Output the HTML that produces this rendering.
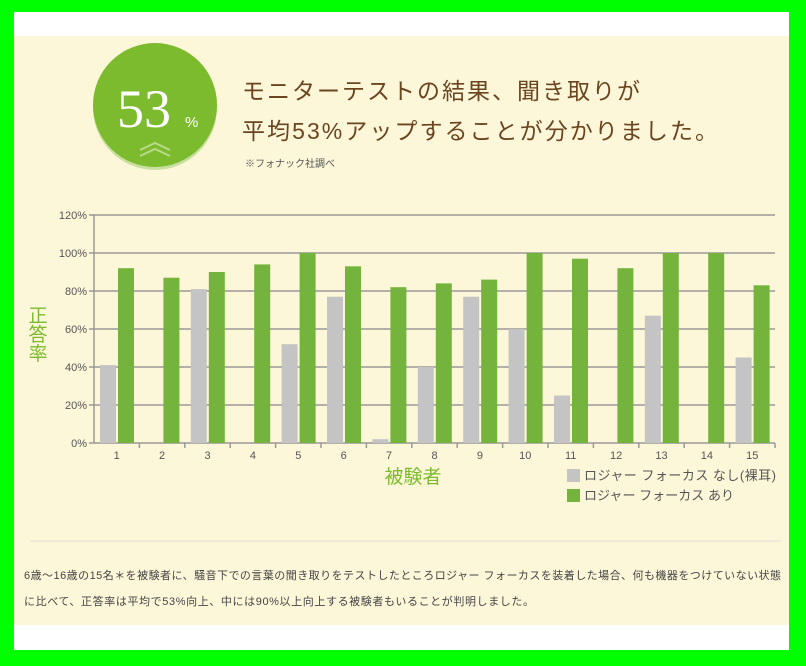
<!DOCTYPE html><html><head><meta charset="utf-8"><style>
body{margin:0;width:806px;height:666px;background:#00ff00;overflow:hidden}
</style></head><body>
<svg width="806" height="666" xmlns="http://www.w3.org/2000/svg" style="position:absolute;left:0;top:0">
<rect x="14" y="12" width="775" height="638" fill="#fff"/>
<rect x="14" y="36" width="775" height="589" fill="#fdf7d9"/>
<circle cx="155" cy="108" r="62" fill="#c8df9e"/>
<circle cx="155" cy="105" r="62" fill="#7cbb2e"/>
<text x="117" y="127" font-family="Liberation Serif,serif" font-size="54" fill="#fff">53</text>
<text x="185" y="127" font-family="Liberation Sans,sans-serif" font-size="15" fill="#fff">%</text>
<path d="M140 150 L155 143 L170 150 M140 156 L155 149 L170 156" stroke="#b8da8a" stroke-width="2" fill="none"/>
<g font-family="Liberation Sans,'Noto Sans CJK JP',sans-serif" fill="#6b4520" font-size="23">
<text x="242" y="99" textLength="398">モニターテストの結果、聞き取りが</text>
<text x="242" y="139" textLength="476">平均53%アップすることが分かりました。</text>
<text x="245" y="167" font-size="10" fill="#555">※フォナック社調べ</text>
</g>
<g stroke="#999" stroke-width="1.5">
<line x1="94" y1="215" x2="775" y2="215"/><line x1="94" y1="253" x2="775" y2="253"/>
<line x1="94" y1="291" x2="775" y2="291"/><line x1="94" y1="329" x2="775" y2="329"/>
<line x1="94" y1="367" x2="775" y2="367"/><line x1="94" y1="405" x2="775" y2="405"/>
<line x1="94" y1="443" x2="775" y2="443"/><line x1="94" y1="215" x2="94" y2="443"/>
<line x1="89" y1="215" x2="94" y2="215"/><line x1="89" y1="253" x2="94" y2="253"/><line x1="89" y1="291" x2="94" y2="291"/><line x1="89" y1="329" x2="94" y2="329"/><line x1="89" y1="367" x2="94" y2="367"/><line x1="89" y1="405" x2="94" y2="405"/><line x1="89" y1="443" x2="94" y2="443"/>
<line x1="139.4" y1="443" x2="139.4" y2="448"/><line x1="184.8" y1="443" x2="184.8" y2="448"/><line x1="230.2" y1="443" x2="230.2" y2="448"/><line x1="275.6" y1="443" x2="275.6" y2="448"/><line x1="321" y1="443" x2="321" y2="448"/><line x1="366.4" y1="443" x2="366.4" y2="448"/><line x1="411.8" y1="443" x2="411.8" y2="448"/><line x1="457.2" y1="443" x2="457.2" y2="448"/><line x1="502.6" y1="443" x2="502.6" y2="448"/><line x1="548" y1="443" x2="548" y2="448"/><line x1="593.4" y1="443" x2="593.4" y2="448"/><line x1="638.8" y1="443" x2="638.8" y2="448"/><line x1="684.2" y1="443" x2="684.2" y2="448"/><line x1="729.6" y1="443" x2="729.6" y2="448"/><line x1="775" y1="443" x2="775" y2="448"/>
</g>
<g font-family="Liberation Sans,sans-serif" font-size="11" fill="#555" text-anchor="end">
<text x="87" y="219">120%</text><text x="87" y="257">100%</text><text x="87" y="295">80%</text><text x="87" y="333">60%</text><text x="87" y="371">40%</text><text x="87" y="409">20%</text><text x="87" y="447">0%</text>
</g>
<g font-family="Liberation Sans,sans-serif" font-size="11" fill="#555" text-anchor="middle">
<text x="116.7" y="459">1</text><text x="162.1" y="459">2</text><text x="207.5" y="459">3</text><text x="252.9" y="459">4</text><text x="298.3" y="459">5</text><text x="343.7" y="459">6</text><text x="389.1" y="459">7</text><text x="434.5" y="459">8</text><text x="479.9" y="459">9</text><text x="525.3" y="459">10</text><text x="570.7" y="459">11</text><text x="616.1" y="459">12</text><text x="661.5" y="459">13</text><text x="706.9" y="459">14</text><text x="752.3" y="459">15</text>
</g>
<g fill="#c4c4c4">
<rect x="100" y="365.1" width="16" height="77.9"/>
<rect x="190.8" y="289.1" width="16" height="153.9"/>
<rect x="281.6" y="344.2" width="16" height="98.8"/>
<rect x="327" y="296.7" width="16" height="146.3"/>
<rect x="372.4" y="439.2" width="16" height="3.8"/>
<rect x="417.8" y="367" width="16" height="76"/>
<rect x="463.2" y="296.7" width="16" height="146.3"/>
<rect x="508.6" y="329" width="16" height="114"/>
<rect x="554" y="395.5" width="16" height="47.5"/>
<rect x="644.8" y="315.7" width="16" height="127.3"/>
<rect x="735.6" y="357.5" width="16" height="85.5"/>
</g>
<g fill="#74b43c">
<rect x="118" y="268.2" width="16" height="174.8"/>
<rect x="163.4" y="277.7" width="16" height="165.3"/>
<rect x="208.8" y="272" width="16" height="171"/>
<rect x="254.2" y="264.4" width="16" height="178.6"/>
<rect x="299.6" y="253" width="16" height="190"/>
<rect x="345" y="266.3" width="16" height="176.7"/>
<rect x="390.4" y="287.2" width="16" height="155.8"/>
<rect x="435.8" y="283.4" width="16" height="159.6"/>
<rect x="481.2" y="279.6" width="16" height="163.4"/>
<rect x="526.6" y="253" width="16" height="190"/>
<rect x="572" y="258.7" width="16" height="184.3"/>
<rect x="617.4" y="268.2" width="16" height="174.8"/>
<rect x="662.8" y="253" width="16" height="190"/>
<rect x="708.2" y="253" width="16" height="190"/>
<rect x="753.6" y="285.3" width="16" height="157.7"/>
</g>
<g font-family="Liberation Sans,'Noto Sans CJK JP',sans-serif" font-size="19" fill="#7cbb2e" text-anchor="middle">
<text x="38" y="322">正</text><text x="38" y="341">答</text><text x="38" y="360">率</text>
<text x="413" y="483">被験者</text>
</g>
<g font-family="Liberation Sans,'Noto Sans CJK JP',sans-serif" font-size="13" fill="#555">
<rect x="567" y="469" width="13" height="13" fill="#c4c4c4"/><text x="584" y="480" textLength="192">ロジャー フォーカス なし(裸耳)</text>
<rect x="567" y="489" width="13" height="13" fill="#74b43c"/><text x="584" y="500" textLength="150">ロジャー フォーカス あり</text>
</g>
<line x1="30" y1="541" x2="781" y2="541" stroke="#ddd"/>
<g font-family="Liberation Sans,'Noto Sans CJK JP',sans-serif" font-size="11" fill="#444">
<text x="24" y="579" textLength="757">6歳〜16歳の15名＊を被験者に、騒音下での言葉の聞き取りをテストしたところロジャー フォーカスを装着した場合、何も機器をつけていない状態</text>
<text x="24" y="605" textLength="510">に比べて、正答率は平均で53%向上、中には90%以上向上する被験者もいることが判明しました。</text>
</g>
</svg></body></html>
